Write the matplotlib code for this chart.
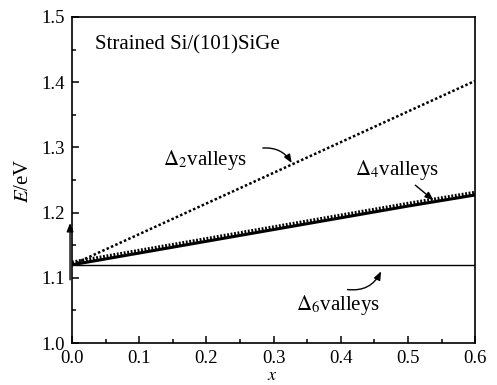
import matplotlib
matplotlib.use("Agg")
import matplotlib.pyplot as plt
from matplotlib.ticker import MultipleLocator

plt.rcParams['font.family'] = ['Liberation Serif', 'DejaVu Serif']
plt.rcParams['mathtext.fontset'] = 'stix'

# data
x_vals = [0.0, 0.1, 0.2, 0.3, 0.4, 0.5, 0.6]
e_delta2 = [1.120, 1.167, 1.214, 1.261, 1.308, 1.355, 1.402]
e_delta4 = [1.120, 1.138, 1.156, 1.174, 1.192, 1.210, 1.227]
e_delta6 = [1.120, 1.120, 1.120, 1.120, 1.120, 1.120, 1.120]

fig = plt.figure(figsize=(4.97, 3.85), dpi=100)
ax = fig.add_axes([0.145, 0.109, 0.811, 0.847])

# Delta2: dense small squares
ax.plot(x_vals, e_delta2, color='black', lw=1.8, linestyle=(0, (1.0, 0.9)),
        dash_capstyle='butt')
# Delta4: dense triangles (band with teeth)
ax.plot(x_vals, e_delta4, color='black', lw=2.2, solid_capstyle='butt')
ax.plot(x_vals, [v + 0.004 for v in e_delta4], color='black', lw=2.4,
        linestyle=(0, (0.55, 0.5)), dash_capstyle='butt')
# Delta6
ax.plot(x_vals, e_delta6, color='black', lw=1.0)

ax.set_xlim(0.0, 0.6)
ax.set_ylim(1.0, 1.5)
ax.xaxis.set_major_locator(MultipleLocator(0.1))
ax.xaxis.set_minor_locator(MultipleLocator(0.05))
ax.yaxis.set_major_locator(MultipleLocator(0.1))
ax.yaxis.set_minor_locator(MultipleLocator(0.05))
ax.tick_params(which='both', direction='in', top=False, right=False,
               labelsize=13.5, width=1.1)
ax.tick_params(which='major', length=5)
ax.tick_params(axis='x', which='major', pad=5)
ax.tick_params(axis='y', which='major', pad=5)
ax.tick_params(which='minor', length=3)
ax.set_xticklabels([f"{v:.1f}" for v in ax.get_xticks()])
ax.set_yticklabels([f"{v:.1f}" for v in ax.get_yticks()])
for s in ax.spines.values():
    s.set_linewidth(1.2)

ax.set_xlabel(r'$\mathit{x}$', fontsize=13)
ax.xaxis.set_label_coords(0.497, -0.072)
ax.set_ylabel(r'$\mathit{E}$/eV', fontsize=15)
ax.yaxis.set_label_coords(-0.097, 0.497)

ax.text(0.034, 1.457, 'Strained Si/(101)SiGe', fontsize=15, va='center', ha='left')
ax.text(0.198, 1.281, r'$\mathit{\Delta}_2$valleys', fontsize=15, va='center', ha='center')
ax.text(0.484, 1.265, r'$\mathit{\Delta}_4$valleys', fontsize=15, va='center', ha='center')
ax.text(0.396, 1.058, r'$\mathit{\Delta}_6$valleys', fontsize=15, va='center', ha='center')

aprops = dict(arrowstyle='-|>,head_length=0.5,head_width=0.2', color='black', lw=1.0,
              shrinkA=0, shrinkB=0)
ax.annotate('', xy=(0.327, 1.276), xytext=(0.284, 1.299),
            arrowprops=dict(aprops, connectionstyle='arc3,rad=-0.3'))
ax.annotate('', xy=(0.538, 1.219), xytext=(0.511, 1.242),
            arrowprops=dict(aprops, connectionstyle='arc3,rad=0.0'))
ax.annotate('', xy=(0.46, 1.11), xytext=(0.41, 1.082),
            arrowprops=dict(aprops, connectionstyle='arc3,rad=0.35'))
ax.annotate('', xy=(-0.003, 1.184), xytext=(-0.003, 1.097),
            arrowprops=dict(aprops, connectionstyle='arc3,rad=0.0'),
            annotation_clip=False)

fig.savefig('out.png', dpi=100)
